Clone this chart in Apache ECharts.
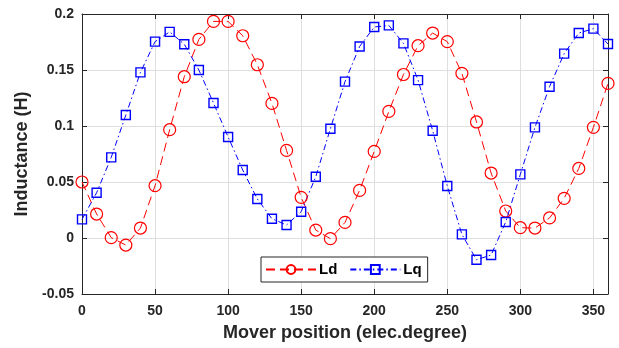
<!DOCTYPE html>
<html>
<head>
<meta charset="utf-8">
<script src="https://cdn.jsdelivr.net/npm/echarts@6/dist/echarts.min.js"></script>
<style>
  html, body { margin: 0; padding: 0; background: #fff; }
  #chart { width: 619px; height: 348px; }
</style>
</head>
<body>
<div id="chart"></div>
<script>
// Mover position in electrical degrees
const positions = [0, 10, 20, 30, 40, 50, 60, 70, 80, 90, 100, 110, 120, 130, 140, 150, 160, 170, 180,
  190, 200, 210, 220, 230, 240, 250, 260, 270, 280, 290, 300, 310, 320, 330, 340, 350, 360];

// d-axis inductance (H)
const ldValues = [0.050, 0.0214, 0.0003, -0.0063, 0.0089, 0.0467, 0.0967, 0.144, 0.1773, 0.1934, 0.1934,
  0.1806, 0.1547, 0.1202, 0.0782, 0.0363, 0.0071, -0.0006, 0.0139, 0.0425, 0.0773, 0.113, 0.146,
  0.1717, 0.183, 0.1753, 0.147, 0.1036, 0.058, 0.0241, 0.0092, 0.0089, 0.0179, 0.0354, 0.0621,
  0.0988, 0.138];

// q-axis inductance (H)
const lqValues = [0.0166, 0.0404, 0.072, 0.1098, 0.1479, 0.1753, 0.184, 0.173, 0.150, 0.1205, 0.0902,
  0.0607, 0.0348, 0.0172, 0.0116, 0.0235, 0.0547, 0.0976, 0.1396, 0.171, 0.1884, 0.1898, 0.1738,
  0.141, 0.0958, 0.0464, 0.0032, -0.0194, -0.0152, 0.0143, 0.0568, 0.0988, 0.1351, 0.1646, 0.183,
  0.1869, 0.1732];

const seriesNames = ['Ld', 'Lq'];
const xTitle = 'Mover position (elec.degree)';
const yTitle = 'Inductance (H)';

const pairs = (vals) => positions.map((p, i) => [p, vals[i]]);

const fontFamily = '"Liberation Sans", Arial, sans-serif';
const ink = '#262626';
const gridColor = '#dfdfdf';

const chart = echarts.init(document.getElementById('chart'), null, { renderer: 'canvas' });

const baseX = {
  type: 'value', min: 0, max: 360, interval: 50,
  axisLine: { show: true, onZero: false, lineStyle: { color: ink, width: 1 } },
  axisTick: { show: true, inside: true, length: 5, lineStyle: { color: ink } }
};
const baseY = {
  type: 'value', min: -0.05, max: 0.2, interval: 0.05,
  axisLine: { show: true, onZero: false, lineStyle: { color: ink, width: 1 } },
  axisTick: { show: true, inside: true, length: 5, lineStyle: { color: ink } }
};

chart.setOption({
  animation: false,
  backgroundColor: '#ffffff',
  grid: { left: 82, right: 11, top: 14, bottom: 54, containLabel: false },
  xAxis: [
    Object.assign({}, baseX, {
      position: 'bottom',
      name: xTitle, nameLocation: 'middle', nameGap: 30,
      nameTextStyle: { fontFamily, fontWeight: 'bold', fontSize: 18, color: ink },
      axisLabel: { fontFamily, fontWeight: 'bold', fontSize: 14, color: ink, margin: 10 },
      splitLine: { show: true, lineStyle: { color: gridColor, width: 1 } }
    }),
    Object.assign({}, baseX, {
      position: 'top',
      axisLabel: { show: false },
      splitLine: { show: false }
    })
  ],
  yAxis: [
    Object.assign({}, baseY, {
      position: 'left',
      name: yTitle, nameLocation: 'middle', nameGap: 50, nameRotate: 90,
      nameTextStyle: { fontFamily, fontWeight: 'bold', fontSize: 18, color: ink },
      axisLabel: { fontFamily, fontWeight: 'bold', fontSize: 14, color: ink, margin: 8 },
      splitLine: { show: true, lineStyle: { color: gridColor, width: 1 } }
    }),
    Object.assign({}, baseY, {
      position: 'right',
      axisLabel: { show: false },
      splitLine: { show: false }
    })
  ],
  legend: {
    left: 261, top: 257, width: 168, height: 24,
    padding: [5, 6, 5, 4],
    itemGap: 12, itemWidth: 50, itemHeight: 11,
    backgroundColor: '#ffffff',
    borderColor: ink, borderWidth: 1, borderRadius: 0,
    textStyle: { fontFamily, fontWeight: 'bold', fontSize: 15, color: '#000', padding: [0, 0, 0, -2] },
    data: seriesNames
  },
  series: [
    {
      name: seriesNames[0], type: 'line', xAxisIndex: 0, yAxisIndex: 0,
      data: pairs(ldValues),
      symbol: 'circle', symbolSize: 12,
      lineStyle: { color: '#ff0000', width: 1, type: [9, 5] },
      itemStyle: { color: 'rgba(255,255,255,0)', borderColor: '#ff0000', borderWidth: 1.2 },
      emphasis: { disabled: true }
    },
    {
      name: seriesNames[1], type: 'line', xAxisIndex: 0, yAxisIndex: 0,
      data: pairs(lqValues),
      symbol: 'rect', symbolSize: 9,
      lineStyle: { color: '#0000ff', width: 1, type: [6, 3, 1.5, 3] },
      itemStyle: { color: 'rgba(255,255,255,0)', borderColor: '#0000ff', borderWidth: 1.4 },
      emphasis: { disabled: true }
    }
  ]
});
</script>
</body>
</html>
